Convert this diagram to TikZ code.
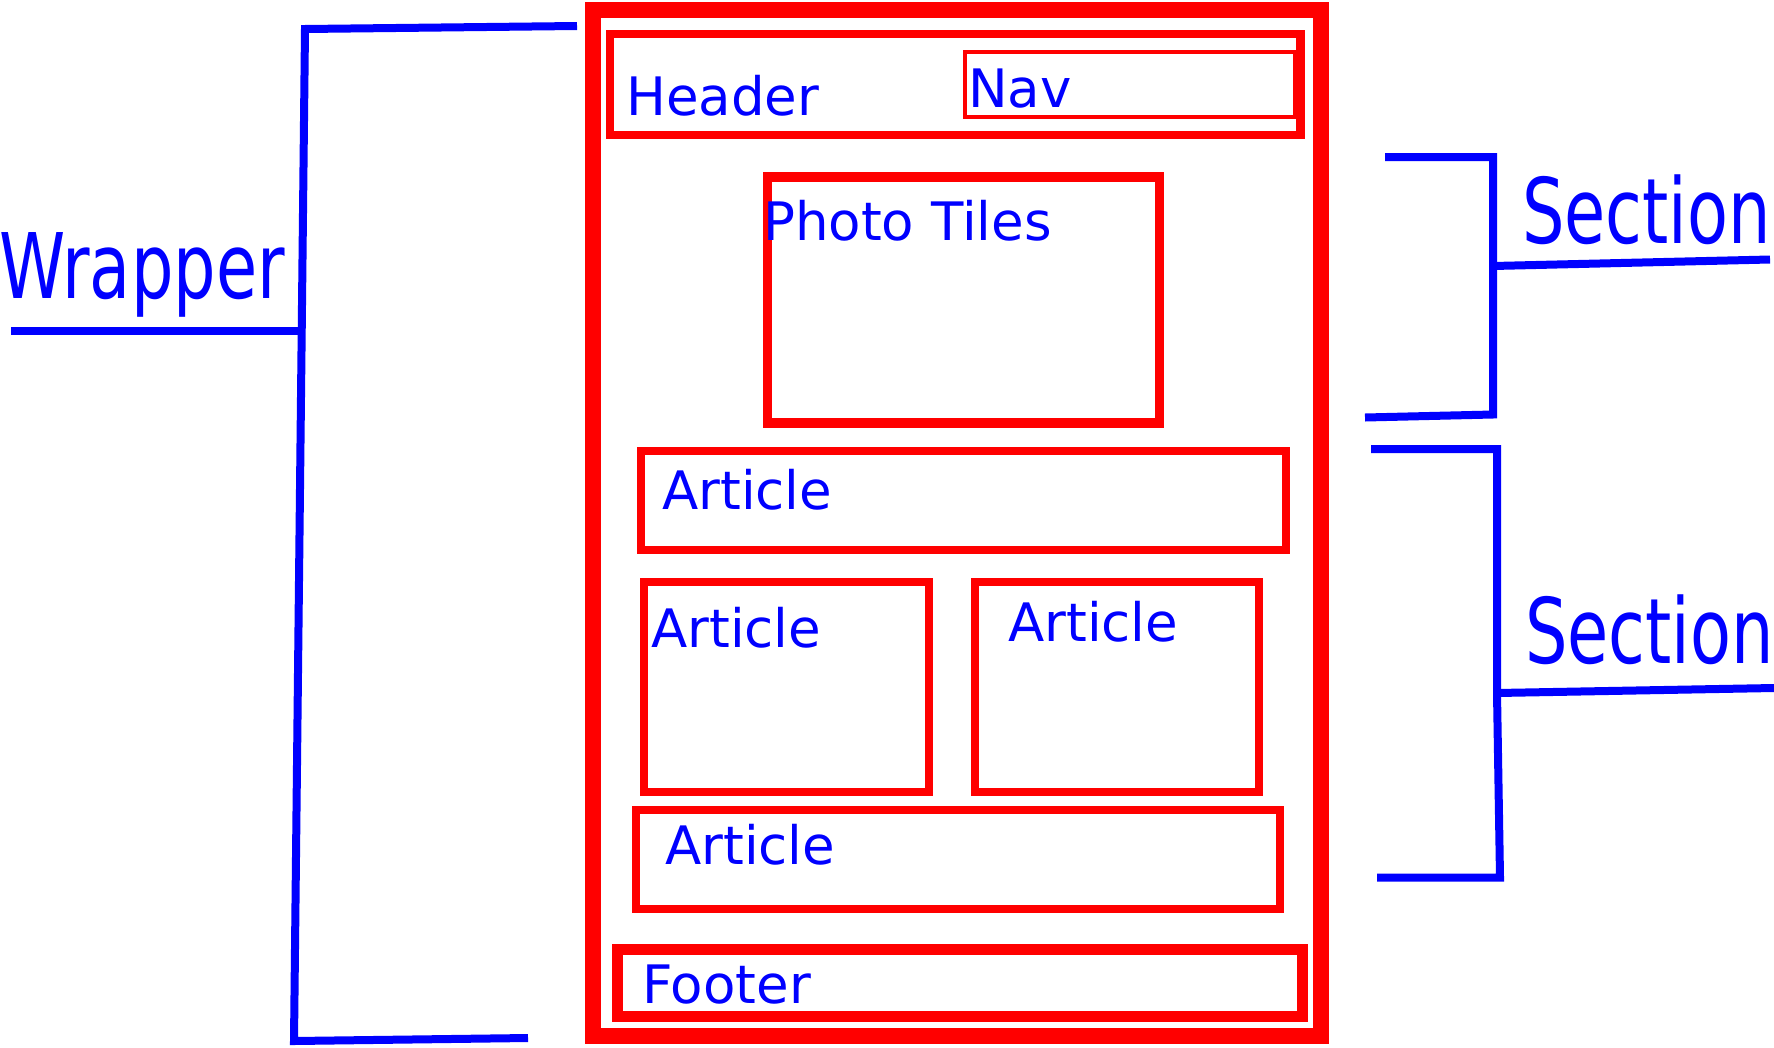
\documentclass[tikz,border=0pt]{standalone}
\usepackage{fontspec}
\setmainfont{DejaVu Sans}
\definecolor{wred}{RGB}{255,0,0}
\definecolor{wblue}{RGB}{0,0,255}
\tikzset{
  redbox/.style={draw=wred, line width=8pt},
  bline/.style={draw=wblue, line width=8pt},
  lbl/.style={text=wblue, anchor=base west, inner sep=0pt, font=\fontsize{53}{60}\selectfont},
  biglbl/.style={text=wblue, anchor=base west, inner sep=0pt, font=\fontsize{90.5}{100}\selectfont, xscale=0.74},
}
\begin{document}
\begin{tikzpicture}[x=1pt,y=-1pt]
\useasboundingbox (0,0) rectangle (1774,1047);

% page boxes
\draw[redbox, line width=16pt] (593,9.5) rectangle (1320.5,1036);
\draw[redbox, line width=8.5pt] (610,34) rectangle (1300.5,135);
\draw[redbox, line width=4.5pt] (965,52) rectangle (1295,117);
\draw[redbox, line width=9.5pt] (767.5,177) rectangle (1159.5,423);
\draw[redbox] (641,451) rectangle (1286,550);
\draw[redbox] (644,582) rectangle (929,792);
\draw[redbox] (975,582) rectangle (1259,792);
\draw[redbox] (636,810) rectangle (1280,909);
\draw[redbox, line width=11pt] (617.5,949.5) rectangle (1302,1016);

% labels
\node[lbl] (header) at (626,115) {Header};
\node[lbl] (nav) at (968,107) {Nav};
\node[lbl] (photo) at (763,240.5) {Photo Tiles};
\node[lbl] (art1) at (662,509.5) {Article};
\node[lbl] (art2) at (651,647) {Article};
\node[lbl] (art3) at (1008,641.5) {Article};
\node[lbl] (art4) at (665,864) {Article};
\node[lbl] (footer) at (642,1003) {Footer};

\node[biglbl] (wrapper) at (-1,298) {Wrapper};
\node[biglbl] (sec1) at (1522,243) {Section};
\node[biglbl] (sec2) at (1525,663) {Section};

% wrapper bracket
\coordinate (wa) at (577,26);
\coordinate (wb) at (305,29);
\coordinate (wc) at (294,1041);
\coordinate (wd) at (528,1038);
\coordinate (wm) at (302,331);
\coordinate (we) at (11,331);
\draw[bline] (wa) -- (wb) -- (wc) -- (wd);
\draw[bline] (we) -- (wm);

% section 1 bracket
\coordinate (sa) at (1385,157);
\coordinate (sb) at (1493,157);
\coordinate (sc) at (1493,414.5);
\coordinate (sd) at (1365,417.5);
\coordinate (sm) at (1493,266);
\coordinate (se) at (1770,259.5);
\draw[bline] (sa) -- (sb) -- (sc) -- (sd);
\draw[bline] (sm) -- (se);

% section 2 bracket
\coordinate (ta) at (1371,449);
\coordinate (tb) at (1497,449);
\coordinate (tm) at (1497,693);
\coordinate (tc) at (1500,877.5);
\coordinate (td) at (1377,877.5);
\coordinate (te) at (1774,688);
\draw[bline] (ta) -- (tb) -- (tm) -- (tc) -- (td);
\draw[bline] (tm) -- (te);
\end{tikzpicture}
\end{document}
